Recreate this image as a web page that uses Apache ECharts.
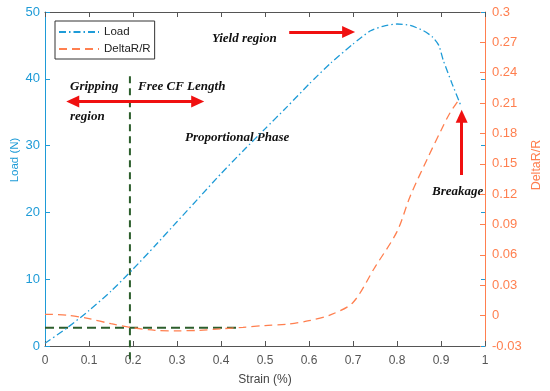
<!DOCTYPE html>
<html><head><meta charset="utf-8">
<script src="https://cdn.jsdelivr.net/npm/echarts@6/dist/echarts.min.js"></script>
<style>html,body{margin:0;padding:0;background:#fff}#c{width:550px;height:391px}</style>
</head><body><div id="c"></div>
<script>
// Load curve (left axis, N)
const loadStrain = [0,0.05,0.1,0.15,0.2,0.25,0.3,0.35,0.4,0.45,0.5,0.55,0.6,0.65,0.7,0.74,0.77,0.8,0.83,0.86,0.88,0.895,0.905,0.925,0.945];
const loadValues = [0.4,2.7,5.3,8.2,11.5,15,18.6,22.2,25.8,29.2,32.5,35.8,39.2,42.4,45.2,47.2,47.9,48.2,48,47.2,46.3,45,42.8,39.3,36.0];
// DeltaR/R curve (right axis)
const drStrain = [0,0.05,0.1,0.15,0.2,0.25,0.3,0.35,0.4,0.45,0.5,0.55,0.6,0.65,0.7,0.75,0.8,0.83,0.87,0.9,0.92,0.94];
const drValues = [0.0013,0.0005,-0.003,-0.008,-0.012,-0.0145,-0.015,-0.0145,-0.013,-0.0115,-0.0098,-0.0085,-0.005,0.001,0.013,0.048,0.083,0.118,0.156,0.183,0.2,0.213];
// Reference guide lines
const gripStrain = 0.193;
const gripLoadSpan = [-2, 41];
const baseDR = -0.012;
const baseStrainSpan = [0, 0.435];
// Axis ranges
const xTicks = {min:0, max:1, interval:0.1};
const loadTicks = {min:0, max:50, interval:10};
const drTicks = {min:-0.03, max:0.3, interval:0.03};

const BLUE = '#1e9bd7', ORANGE = '#ff7f4f', GREEN = '#2c5e2c', RED = '#f01010', GRAY = '#555';
const zip = (a,b)=>a.map((v,i)=>[v,b[i]]);
const chart = echarts.init(document.getElementById('c'));
const annoFont = {fontFamily:'Liberation Serif', fontStyle:'italic', fontWeight:'bold', fontSize:13, fill:'#111'};
chart.setOption({
  animation:false,
  backgroundColor:'#fff',
  grid:{left:45,right:65,top:12,bottom:45,containLabel:false,outerBoundsMode:'none'},
  legend:{
    orient:'vertical', left:55, top:21, data:['Load','DeltaR/R'],
    borderColor:'#333', borderWidth:1, padding:[5,4,4,3], itemGap:5,
    itemWidth:40, itemHeight:10,
    itemStyle:{opacity:0},
    textStyle:{fontFamily:'Liberation Sans', fontSize:11.5, color:'#222'}
  },
  xAxis:[
    {type:'value', position:'bottom', min:xTicks.min, max:xTicks.max, interval:xTicks.interval,
     name:'Strain (%)', nameLocation:'middle', nameGap:28,
     nameTextStyle:{color:'#444', fontFamily:'Liberation Sans', fontSize:12},
     axisLine:{onZero:false,lineStyle:{color:GRAY}}, axisTick:{inside:true,length:5,lineStyle:{color:GRAY}},
     axisLabel:{color:GRAY, fontFamily:'Liberation Sans', fontSize:12, margin:9,
       formatter:v=>String(parseFloat(v.toFixed(2)))},
     splitLine:{show:false}},
    {type:'value', position:'top', min:xTicks.min, max:xTicks.max, interval:xTicks.interval,
     axisLine:{onZero:false,lineStyle:{color:GRAY}}, axisTick:{inside:true,length:5,lineStyle:{color:GRAY}},
     axisLabel:{show:false}, splitLine:{show:false}}
  ],
  yAxis:[
    {type:'value', position:'left', min:loadTicks.min, max:loadTicks.max, interval:loadTicks.interval,
     axisLine:{show:true,onZero:false,lineStyle:{color:BLUE}}, axisTick:{show:true,inside:true,length:5,lineStyle:{color:BLUE}},
     axisLabel:{color:BLUE, fontFamily:'Liberation Sans', fontSize:13, margin:5}, splitLine:{show:false}},
    {type:'value', position:'right', min:drTicks.min, max:drTicks.max, interval:drTicks.interval,
     axisLine:{show:true,onZero:false,lineStyle:{color:ORANGE}}, axisTick:{show:true,inside:true,length:5,lineStyle:{color:ORANGE}},
     axisLabel:{color:ORANGE, fontFamily:'Liberation Sans', fontSize:13, margin:7,
       formatter:v=>String(parseFloat(v.toFixed(2)))}, splitLine:{show:false}},
    {type:'value', position:'right', min:loadTicks.min, max:loadTicks.max, interval:loadTicks.interval,
     axisLine:{show:false,onZero:false}, axisTick:{show:true,inside:true,length:4,lineStyle:{color:BLUE}},
     axisLabel:{show:false}, splitLine:{show:false}}
  ],
  series:[
    {name:'Load', type:'line', yAxisIndex:0, data:zip(loadStrain,loadValues), smooth:0.2, showSymbol:false, symbol:'none',
     lineStyle:{color:BLUE, width:1.3, type:[7,3,1.5,3]}, itemStyle:{color:BLUE}, z:5},
    {name:'DeltaR/R', type:'line', yAxisIndex:1, data:zip(drStrain,drValues), smooth:0.3, showSymbol:false, symbol:'none',
     lineStyle:{color:ORANGE, width:1.3, type:[8,5]}, itemStyle:{color:ORANGE}, z:5},
    {name:'gripV', type:'line', yAxisIndex:0, clip:false, symbol:'none',
     data:[[gripStrain,gripLoadSpan[0]],[gripStrain,gripLoadSpan[1]]],
     lineStyle:{color:GREEN, width:2, type:[7,5]}, z:4},
    {name:'baseH', type:'line', yAxisIndex:1, symbol:'none',
     data:[[baseStrainSpan[0],baseDR],[baseStrainSpan[1],baseDR]],
     lineStyle:{color:GREEN, width:2, type:[9,5]}, z:4},
    {name:'arrows', type:'line', yAxisIndex:0, data:[], 
     markLine:{silent:true, animation:false, label:{show:false},
       lineStyle:{color:RED, width:3, type:'solid'},
       data:[
         [{coord:[0.063,36.6],symbol:'triangle',symbolSize:[12,13]},{coord:[0.347,36.6],symbol:'triangle',symbolSize:[12,13]}],
         [{coord:[0.555,47.0],symbol:'none'},{coord:[0.69,47.0],symbol:'triangle',symbolSize:[12,13]}],
         [{coord:[0.947,25.6],symbol:'none'},{coord:[0.947,34.4],symbol:'triangle',symbolSize:[12,13]}]
       ]}}
  ],
  graphic:[
    {type:'text', x:15, y:160, rotation:Math.PI/2,
     style:{text:'Load (N)', fontFamily:'Liberation Sans', fontSize:11.5, fill:BLUE, align:'center', verticalAlign:'middle'}},
    {type:'text', x:537, y:165, rotation:Math.PI/2,
     style:{text:'DeltaR/R', fontFamily:'Liberation Sans', fontSize:12.5, fill:ORANGE, align:'center', verticalAlign:'middle'}},
    {type:'text', left:70, top:80, style:Object.assign({text:'Gripping'},annoFont)},
    {type:'text', left:70, top:110, style:Object.assign({text:'region'},annoFont)},
    {type:'text', left:138, top:80, style:Object.assign({text:'Free CF Length'},annoFont)},
    {type:'text', left:185, top:131, style:Object.assign({text:'Proportional Phase'},annoFont)},
    {type:'text', left:212, top:32, style:Object.assign({text:'Yield region'},annoFont)},
    {type:'text', left:432, top:185, style:Object.assign({text:'Breakage'},annoFont)}
  ]
});
</script></body></html>
